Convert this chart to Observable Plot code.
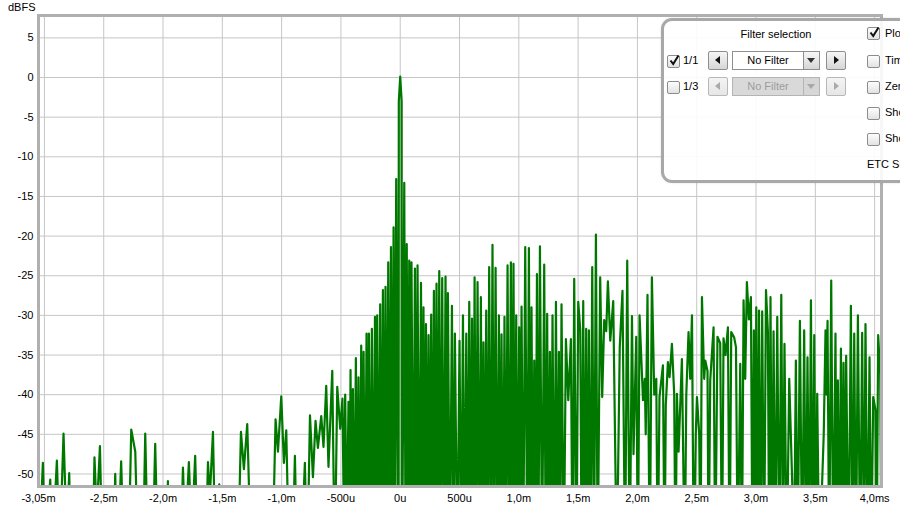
<!DOCTYPE html>
<html>
<head>
<meta charset="utf-8">
<script src="https://cdn.jsdelivr.net/npm/d3@7"></script>
<script src="https://cdn.jsdelivr.net/npm/@observablehq/plot@0.6"></script>
<style>
  html, body { margin: 0; padding: 0; background: #fff; overflow: hidden; }
  #wrap { position: relative; width: 900px; height: 508px; overflow: hidden; font-family: "Liberation Sans", Arial, sans-serif; font-size: 11px; color: #000; }
  #unit { position: absolute; left: 8px; top: 1px; font-size: 11px; }
  #panel { position: absolute; left: 661px; top: 18px; width: 262px; height: 159px; border: 3px solid #a8a8a8; border-radius: 11px; background: rgba(255,255,255,0.9); box-shadow: 0 0 2px rgba(0,0,0,0.15); }
  #panel .abs { position: absolute; white-space: nowrap; }
  .cb { position: absolute; width: 11px; height: 11px; border: 1px solid #8c8c8c; border-radius: 2px; background: linear-gradient(#fdfdfd, #e2e2e2); }
  .cb svg { position: absolute; left: 0; top: -2px; }
  .btn { position: absolute; width: 18px; height: 17px; border: 1px solid #8e8e8e; border-radius: 2px; background: linear-gradient(#f6f6f6, #d6d6d6); }
  .btn.dis { border-color: #b8b8b8; background: linear-gradient(#f4f4f4, #e6e6e6); }
  .tri-l, .tri-r, .tri-d { position: absolute; width: 0; height: 0; }
  .tri-l { left: 6px; top: 4px; border-top: 4.5px solid transparent; border-bottom: 4.5px solid transparent; border-right: 5px solid #111; }
  .tri-r { left: 7px; top: 4px; border-top: 4.5px solid transparent; border-bottom: 4.5px solid transparent; border-left: 5px solid #111; }
  .dis .tri-l { border-right-color: #aaa; }
  .dis .tri-r { border-left-color: #aaa; }
  .combo { position: absolute; width: 86px; height: 17px; border: 1px solid #8e8e8e; background: #fff; }
  .combo .txt { position: absolute; left: 0; width: 70px; top: 2px; text-align: center; }
  .combo .arr { position: absolute; right: 0; top: 0; width: 15px; height: 17px; border-left: 1px solid #8e8e8e; background: linear-gradient(#f6f6f6, #d6d6d6); }
  .combo .arr .tri-d { left: 3px; top: 6px; border-left: 4.5px solid transparent; border-right: 4.5px solid transparent; border-top: 5px solid #333; }
  .combo.dis { border-color: #b4b4b4; background: #d9d9d9; color: #9c9c9c; }
  .combo.dis .arr { border-left-color: #b4b4b4; background: #d6d6d6; }
  .combo.dis .arr .tri-d { border-top-color: #a8a8a8; }
</style>
</head>
<body>
<div id="wrap">
  <div id="chart"></div>
  <div id="unit">dBFS</div>
  <div id="panel">
    <div class="abs" style="left:64px; top:7px; width:96px; text-align:center;">Filter selection</div>

    <div class="cb" style="left:3px; top:34px;"><svg width="13" height="13" viewBox="0 0 13 13"><path d="M2.5 6.5 L5.2 10 L10.5 1.5" fill="none" stroke="#111" stroke-width="2"/></svg></div>
    <div class="abs" style="left:19px; top:33px;">1/1</div>
    <div class="btn" style="left:44px; top:30px;"><div class="tri-l"></div></div>
    <div class="combo" style="left:68px; top:30px;"><div class="txt">No Filter</div><div class="arr"><div class="tri-d"></div></div></div>
    <div class="btn" style="left:162px; top:30px;"><div class="tri-r"></div></div>

    <div class="cb" style="left:3px; top:60px;"></div>
    <div class="abs" style="left:19px; top:59px;">1/3</div>
    <div class="btn dis" style="left:44px; top:56px;"><div class="tri-l"></div></div>
    <div class="combo dis" style="left:68px; top:56px;"><div class="txt">No Filter</div><div class="arr"><div class="tri-d"></div></div></div>
    <div class="btn dis" style="left:162px; top:56px;"><div class="tri-r"></div></div>

    <div class="cb" style="left:203px; top:6px;"><svg width="13" height="13" viewBox="0 0 13 13"><path d="M2.5 6.5 L5.2 10 L10.5 1.5" fill="none" stroke="#111" stroke-width="2"/></svg></div>
    <div class="abs" style="left:221px; top:6px;">Plot</div>
    <div class="cb" style="left:203px; top:34px;"></div>
    <div class="abs" style="left:221px; top:33px;">Time</div>
    <div class="cb" style="left:203px; top:60px;"></div>
    <div class="abs" style="left:221px; top:59px;">Zero</div>
    <div class="cb" style="left:203px; top:86px;"></div>
    <div class="abs" style="left:221px; top:85px;">Show</div>
    <div class="cb" style="left:203px; top:112px;"></div>
    <div class="abs" style="left:221px; top:111px;">Show</div>
    <div class="abs" style="left:203px; top:137px;">ETC Smoothing</div>
  </div>
</div>
<script>
// ---- data (time in ms, level in dBFS) ----
const preRinging = [
  [-3.050,-62],[-3.031,-55],[-3.013,-48.6],[-2.993,-60],[-2.951,-50.7],[-2.934,-60],[-2.895,-48.3],[-2.871,-60],[-2.839,-44.9],[-2.812,-58],[-2.791,-49.9],[-2.774,-62],
  [-2.597,-62],[-2.578,-47.9],[-2.559,-55],[-2.532,-46.5],[-2.509,-62],
  [-2.420,-62],[-2.403,-50],[-2.386,-62],[-2.353,-48.4],[-2.327,-62],[-2.293,-62],[-2.268,-44.4],[-2.234,-47.2],[-2.209,-62],[-2.171,-62],[-2.150,-44.9],[-2.125,-62],[-2.091,-62],[-2.066,-46.2],[-2.041,-62],
  [-1.973,-62],[-1.959,-50.9],[-1.944,-62],
  [-1.855,-62],[-1.832,-49.2],[-1.813,-58],[-1.782,-48.5],[-1.758,-58],[-1.729,-47.7],[-1.703,-62],
  [-1.644,-62],[-1.621,-48.5],[-1.606,-53],[-1.579,-44.7],[-1.556,-62],[-1.526,-51.3],[-1.509,-62],
  [-1.370,-62],[-1.343,-44.7],[-1.318,-49.4],[-1.290,-43.7],[-1.256,-62],
  [-1.079,-62],[-1.051,-43.1],[-1.031,-47.2],[-1.003,-40.2],[-0.981,-48.6],[-0.961,-44.5],[-0.936,-62],
  [-0.911,-62],[-0.888,-47.7],[-0.869,-62]
];
const onset = [
  [-0.839,-62],[-0.804,-48.6],[-0.784,-62],[-0.761,-42.6],[-0.736,-50.4],[-0.714,-43.3],[-0.694,-46.7],[-0.666,-42.7],[-0.647,-46.6],[-0.624,-38.9],[-0.605,-49.1],[-0.573,-37.0],[-0.552,-62],[-0.531,-39.0],[-0.506,-44.3],[-0.487,-40.5],[-0.476,-55],[-0.464,-40.0],[-0.451,-58],[-0.436,-40.9],[-0.428,-62],[-0.419,-36.9],[-0.409,-62],[-0.399,-39.3],[-0.388,-62],[-0.374,-35.4],[-0.363,-62],[-0.352,-37.8],[-0.340,-62],[-0.329,-33.8],[-0.320,-62],[-0.309,-34.6],[-0.297,-62],[-0.284,-32.3],[-0.274,-62],[-0.264,-32.3],[-0.251,-62],[-0.239,-31.7],[-0.226,-62],[-0.213,-30.2],[-0.204,-62],[-0.194,-30.0],[-0.181,-62],[-0.169,-28.6],[-0.158,-62],[-0.146,-26.8],[-0.135,-62],[-0.124,-26.4],[-0.112,-62],[-0.101,-23.3],[-0.090,-62],[-0.078,-21.4],[-0.067,-62],[-0.056,-18.9],[-0.045,-62]
];
const mainPeak = [
  [-0.034,-12.8],[-0.014,-70],[-0.012,-3],[0,0.1],[0.012,-3],[0.014,-70],[0.034,-13.3],[0.045,-62]
];
const earlyDecay = [
  [0.055,-21.0],[0.066,-62],[0.076,-23.1],[0.086,-62],[0.095,-23.3],[0.110,-62],[0.124,-24.1],[0.135,-62],[0.146,-23.7],[0.160,-62],[0.175,-25.9],[0.186,-62],[0.196,-29.0],[0.207,-62],[0.217,-31.1],[0.228,-62],[0.239,-32.5],[0.250,-62],[0.261,-29.9],[0.272,-62],[0.284,-26.9],[0.295,-62],[0.306,-26.0],[0.318,-62],[0.329,-24.4],[0.341,-62],[0.354,-25.3],[0.368,-62],[0.382,-25.1],[0.392,-62],[0.402,-27.2],[0.419,-62],[0.436,-28.8],[0.449,-62],[0.461,-32.3],[0.481,-62],[0.500,-33.2],[0.514,-62],[0.529,-30.0],[0.542,-62],[0.557,-32.3],[0.569,-62],[0.582,-28.3],[0.593,-62],[0.605,-30.4],[0.616,-62],[0.627,-25.2],[0.639,-62],[0.652,-25.8],[0.666,-62],[0.680,-27.7],[0.691,-62],[0.702,-33.4],[0.714,-62],[0.725,-29.4],[0.738,-62],[0.750,-23.9],[0.765,-62],[0.778,-21.1],[0.791,-62],[0.804,-24.0],[0.818,-62],[0.832,-30.0],[0.843,-62],[0.854,-32.4],[0.867,-62],[0.879,-30.2],[0.892,-62],[0.905,-23.7],[0.919,-62],[0.933,-23.3],[0.944,-62],[0.955,-23.5],[0.967,-62],[0.978,-30.0],[0.991,-62],[1.003,-31.5],[1.014,-62],[1.023,-28.9],[1.037,-62],[1.054,-21.4],[1.071,-62],[1.085,-21.5],[1.096,-62],[1.107,-29.0],[1.119,-62],[1.130,-35.7],[1.141,-62],[1.153,-24.8],[1.165,-62],[1.178,-21.3],[1.196,-62],[1.214,-23.6],[1.227,-62],[1.239,-29.8],[1.250,-62],[1.262,-34.6],[1.273,-62],[1.284,-30.0],[1.299,-62],[1.313,-28.3],[1.326,-62],[1.338,-34.6],[1.349,-62],[1.360,-28.6],[1.379,-62],[1.397,-33.0],[1.417,-40.7],[1.439,-33.0],[1.453,-62],[1.467,-25.4],[1.484,-62],[1.501,-28.3],[1.518,-31.9],[1.530,-62],[1.543,-28.2],[1.556,-62],[1.568,-31.7],[1.579,-62],[1.591,-31.9],[1.605,-62],[1.619,-23.9],[1.634,-62],[1.650,-19.8],[1.665,-62]
];
const midDecay = [
  [1.686,-25.2],[1.703,-40.3],[1.720,-30.6],[1.737,-32],[1.751,-25.7],[1.771,-33.2],[1.796,-28.2],[1.826,-62],[1.851,-34],[1.874,-26.9],[1.896,-62],[1.914,-23.1],[1.935,-62],[1.954,-30.1],[1.967,-47.5],[1.990,-32.7],[2.004,-62],[2.018,-30.0],[2.047,-40.7],[2.062,-38],[2.070,-45],[2.085,-27.4],[2.104,-62],[2.122,-25.2],[2.142,-40],[2.159,-38.0],[2.171,-62],[2.186,-40.3],[2.215,-36.3],[2.229,-62],[2.239,-41.4],[2.257,-35.9],[2.271,-37.8],[2.291,-33.6],[2.310,-39.9],[2.321,-62],[2.333,-39.9],[2.347,-47.2],[2.375,-35.5],[2.399,-62],[2.412,-40],[2.431,-32.1],[2.445,-38],[2.460,-30.0],[2.475,-62],[2.492,-45],[2.502,-40.3],[2.521,-45],[2.532,-62],[2.544,-27.7],[2.563,-38],[2.572,-35.7],[2.591,-37],[2.600,-62],[2.614,-38.2],[2.642,-31.5],[2.656,-62],[2.675,-32.7],[2.698,-33.5],[2.713,-62],[2.726,-32.9],[2.743,-35],[2.763,-31.5],[2.777,-62],[2.791,-32.1],[2.816,-32.8],[2.831,-34],[2.846,-62]
];
const lateDecay = [
  [2.867,-36.1],[2.881,-62],[2.895,-28.1],[2.909,-38],[2.923,-25.8],[2.940,-30.5],[2.957,-27.7],[2.970,-62],[2.982,-31.9],[2.992,-62],[3.002,-29.0],[3.013,-62],[3.025,-29.4],[3.038,-62],[3.052,-29.5],[3.068,-62],[3.084,-26.8],[3.100,-32],[3.111,-62],[3.122,-27.7],[3.135,-62],[3.148,-32.0],[3.162,-62],[3.179,-30.2],[3.196,-62],[3.213,-27.4],[3.227,-62],[3.240,-33.6],[3.259,-62],[3.280,-38.0],[3.305,-51],[3.320,-62],[3.336,-35.7],[3.351,-62],[3.370,-30.7],[3.389,-62],[3.406,-31.9],[3.420,-62],[3.434,-35.3],[3.449,-62],[3.463,-28.1],[3.477,-62],[3.491,-32.5],[3.504,-62],[3.516,-39.9],[3.533,-62],[3.571,-45],[3.586,-31.9],[3.595,-40],[3.603,-30.7],[3.617,-62],[3.634,-25.6],[3.651,-62],[3.670,-32.3],[3.680,-62],[3.690,-38.2],[3.701,-62],[3.716,-34.2],[3.727,-62],[3.738,-36],[3.749,-62],[3.760,-35.1],[3.780,-62],[3.800,-28.8],[3.813,-62],[3.828,-32.3],[3.843,-62],[3.859,-30.0],[3.878,-62],[3.895,-32.2],[3.910,-62],[3.923,-31.1],[3.940,-62],[3.957,-35.3],[3.971,-62],[3.988,-40.3],[4.007,-41.9],[4.017,-62],[4.030,-32.5],[4.047,-37.4],[4.058,-62]
];

const xTickValues = [-3.05, -2.5, -2.0, -1.5, -1.0, -0.5, 0, 0.5, 1.0, 1.5, 2.0, 2.5, 3.0, 3.5, 4.0];
const xTickLabels = ["-3,05m","-2,5m","-2,0m","-1,5m","-1,0m","-500u","0u","500u","1,0m","1,5m","2,0m","2,5m","3,0m","3,5m","4,0ms"];
const xGridValues = [-3.0, -2.5, -2.0, -1.5, -1.0, -0.5, 0, 0.5, 1.0, 1.5, 2.0, 2.5, 3.0, 3.5, 4.0];
const yTickValues = [5, 0, -5, -10, -15, -20, -25, -30, -35, -40, -45, -50];
const yTickLabels = ["5","0","-5","-10","-15","-20","-25","-30","-35","-40","-45","-50"];

// ---- build ----
const series = [...preRinging, ...onset, ...mainPeak, ...earlyDecay, ...midDecay, ...lateDecay].map(([t, db]) => ({t, db}));
const xLabel = new Map(xTickValues.map((v, i) => [v, xTickLabels[i]]));
const yLabel = new Map(yTickValues.map((v, i) => [v, yTickLabels[i]]));

const chart = Plot.plot({
  width: 900,
  height: 508,
  marginLeft: 38,
  marginRight: 19,
  marginTop: 15,
  marginBottom: 22,
  style: { fontFamily: "'Liberation Sans', Arial, sans-serif", fontSize: "11px", color: "#000", background: "#fff" },
  x: { domain: [-3.05, 4.058] },
  y: { domain: [-51.58, 7.82] },
  marks: [
    Plot.gridX(xGridValues, { stroke: "#c6c6c6", strokeOpacity: 1, strokeWidth: 1 }),
    Plot.gridY(yTickValues, { stroke: "#c6c6c6", strokeOpacity: 1, strokeWidth: 1 }),
    Plot.line(series, { x: "t", y: "db", stroke: "#007800", strokeWidth: 2.2, curve: "linear", clip: true }),
    Plot.frame({ stroke: "#b0b0b0", strokeWidth: 3 }),
    Plot.axisX(xTickValues, { tickSize: 0, tickPadding: 8, tickFormat: d => xLabel.get(d), label: null }),
    Plot.axisY(yTickValues, { tickSize: 0, tickPadding: 5, tickFormat: d => yLabel.get(d), label: null })
  ]
});
document.getElementById("chart").appendChild(chart);
</script>
</body>
</html>
